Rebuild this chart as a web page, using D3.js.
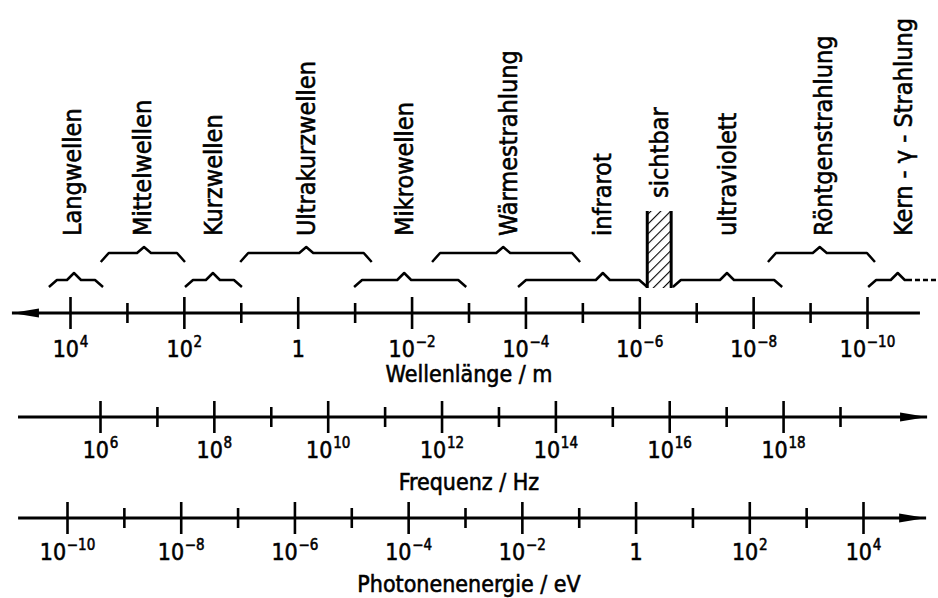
<!DOCTYPE html>
<html>
<head>
<meta charset="utf-8">
<script src="https://cdn.jsdelivr.net/npm/d3@7"></script>
<style>
body { margin: 0; background: #fff; }
text { font-family: "DejaVu Sans Condensed", "DejaVu Sans", sans-serif; fill: #000; stroke: #000; stroke-width: 0.55px; }
</style>
</head>
<body>
<div id="chart"></div>
<script>
var w = 938;
var h = 598;

// decade exponents on each axis (log10 of value)
var lambdaTicks = d3.range(4, -11, -1);
var freqTicks = d3.range(6, 20);
var energyTicks = d3.range(-10, 5);

// where the drawn axis lines begin and end (in decades)
var lambdaEnds = [5.02, -10.93];
var freqEnds = [4.56, 20.53];
var energyEnds = [-10.86, 5.11];

// spectral bands on the wavelength axis, log10(lambda / m)
var bandNames = ["Langwellen", "Mittelwellen", "Kurzwellen", "Ultrakurzwellen", "Mikrowellen",
                 "Wärmestrahlung", "infrarot", "ultraviolett", "Röntgenstrahlung", "Kern - γ - Strahlung"];
var bandFrom = [4.37, 3.46, 1.98, 1.01, -0.99, -2.36, -3.87, -6.59, -8.26, -10.02];
var bandTo = [3.42, 1.98, 0.98, -1.30, -2.96, -4.96, -6.14, -8.51, -10.14, -10.79];
var bandPeak = [3.93, 2.70, 1.49, -0.15, -1.87, -3.61, -5.36, -7.54, -9.17, -10.54];
var bandRow = [1, 0, 1, 0, 1, 0, 1, 1, 0, 1];
var bandLabel = [3.96, 2.74, 1.49, -0.15, -1.87, -3.69, -5.34, -7.54, -9.23, -10.63];

// visible light and the open end of the gamma band
var visibleName = "sichtbar";
var visibleRange = [-6.14, -6.56];
var gammaOpenEnd = -11.25;

var axisTitles = ["Wellenlänge / m", "Frequenz / Hz", "Photonenenergie / eV"];

var svg = d3.select("#chart")
            .append("svg")
            .attr("width", w)
            .attr("height", h);

var xLambda = d3.scaleLinear().domain([4, -10]).range([70, 867]);
var xFreq = d3.scaleLinear().domain([6, 19]).range([100, 840]);
var xEnergy = d3.scaleLinear().domain([-10, 4]).range([67, 863]);

// hatch pattern for the visible band
var defs = svg.append("defs");
defs.append("pattern")
    .attr("id", "hatch")
    .attr("patternUnits", "userSpaceOnUse")
    .attr("width", 7)
    .attr("height", 7)
    .attr("patternTransform", "rotate(45)")
    .append("line")
    .attr("x1", 0).attr("y1", 0)
    .attr("x2", 0).attr("y2", 7)
    .attr("stroke", "#000")
    .attr("stroke-width", 2.2);

function drawAxis(scale, ticks, y, ends, arrowRight, labelY, title, titleY) {
    var g = svg.append("g").attr("transform", "translate(0," + y + ")");
    var axis = d3.axisBottom(scale).tickValues(ticks).tickSize(0).tickFormat("");
    g.call(axis);
    g.select(".domain").remove();
    g.attr("font-size", null).attr("font-family", null);

    g.append("line")
        .attr("x1", scale(ends[0]))
        .attr("x2", scale(ends[1]))
        .attr("stroke", "#000")
        .attr("stroke-width", 3);

    // arrow head
    var tip = arrowRight ? scale(ends[1]) : scale(ends[0]);
    var base = arrowRight ? tip - 27 : tip + 27;
    g.append("path")
        .attr("d", d3.line()([[tip, 0], [base, -4.5], [base, 4.5]]) + "Z")
        .attr("fill", "#000");

    g.selectAll(".tick line")
        .attr("y1", function(d) { return Math.abs(d) % 2 === 0 ? -16 : -10; })
        .attr("y2", function(d) { return Math.abs(d) % 2 === 0 ? 16 : 10; })
        .attr("stroke", "#000")
        .attr("stroke-width", 2.6);

    var labels = g.selectAll(".tick text")
        .filter(function(d) { return Math.abs(d) % 2 === 0; })
        .attr("y", labelY)
        .attr("dy", null)
        .attr("fill", "#000")
        .attr("text-anchor", "middle")
        .attr("font-size", "23px");
    labels.each(function(d) {
        var t = d3.select(this);
        if (d === 0) {
            t.text("1");
        } else {
            t.append("tspan").text("10");
            t.append("tspan")
                .attr("dy", "-0.7em")
                .attr("dx", "0.05em")
                .attr("font-size", "15px")
                .text(d < 0 ? "−" + (-d) : d);
        }
    });

    svg.append("text")
        .attr("x", 469)
        .attr("y", titleY)
        .attr("text-anchor", "middle")
        .attr("font-size", "23px")
        .text(title);
}

drawAxis(xLambda, lambdaTicks, 313, lambdaEnds, false, 44, axisTitles[0], 382);
drawAxis(xFreq, freqTicks, 417, freqEnds, true, 41, axisTitles[1], 490);
drawAxis(xEnergy, energyTicks, 518, energyEnds, true, 42, axisTitles[2], 592);

// braces
var rows = [{top: 247, flat: 253, end: 262}, {top: 273, flat: 280, end: 287}];
var last = bandNames.length - 1;

svg.selectAll("path.brace")
    .data(bandNames)
    .enter()
    .append("path")
    .attr("class", "brace")
    .attr("d", function(d, i) {
        var r = rows[bandRow[i]];
        var x0 = xLambda(bandFrom[i]);
        var x1 = xLambda(bandTo[i]);
        var xp = xLambda(bandPeak[i]);
        var pts = [[x0, r.end], [x0 + 8, r.flat], [xp - 7, r.flat], [xp, r.top], [xp + 7, r.flat]];
        if (i === last) {
            pts.push([x1, r.flat]);
        } else {
            pts.push([x1 - 8, r.flat], [x1, r.end]);
        }
        return d3.line()(pts);
    })
    .attr("fill", "none")
    .attr("stroke", "#000")
    .attr("stroke-width", 2.5)
    .attr("stroke-linejoin", "round");

// dashed continuation of the gamma band
svg.append("line")
    .attr("x1", xLambda(bandTo[last]) + 3)
    .attr("x2", xLambda(gammaOpenEnd))
    .attr("y1", rows[1].flat)
    .attr("y2", rows[1].flat)
    .attr("stroke", "#000")
    .attr("stroke-width", 2.5)
    .attr("stroke-dasharray", "5,3");

// visible band
var vx0 = xLambda(visibleRange[0]);
var vx1 = xLambda(visibleRange[1]);
svg.append("rect")
    .attr("x", vx0)
    .attr("y", 211)
    .attr("width", vx1 - vx0)
    .attr("height", 77)
    .attr("fill", "url(#hatch)");
svg.selectAll("line.vis")
    .data(visibleRange)
    .enter()
    .append("line")
    .attr("class", "vis")
    .attr("x1", function(d) { return xLambda(d); })
    .attr("x2", function(d) { return xLambda(d); })
    .attr("y1", 211)
    .attr("y2", 288)
    .attr("stroke", "#000")
    .attr("stroke-width", 3);

// rotated band labels
svg.selectAll("text.band")
    .data(bandNames)
    .enter()
    .append("text")
    .attr("class", "band")
    .attr("transform", function(d, i) {
        return "translate(" + xLambda(bandLabel[i]) + ",236) rotate(-90)";
    })
    .attr("dy", "0.36em")
    .attr("font-size", "25px")
    .text(function(d) { return d; });

svg.append("text")
    .attr("transform", "translate(" + xLambda((visibleRange[0] + visibleRange[1]) / 2) + ",198) rotate(-90)")
    .attr("dy", "0.36em")
    .attr("font-size", "25px")
    .text(visibleName);
</script>
</body>
</html>
